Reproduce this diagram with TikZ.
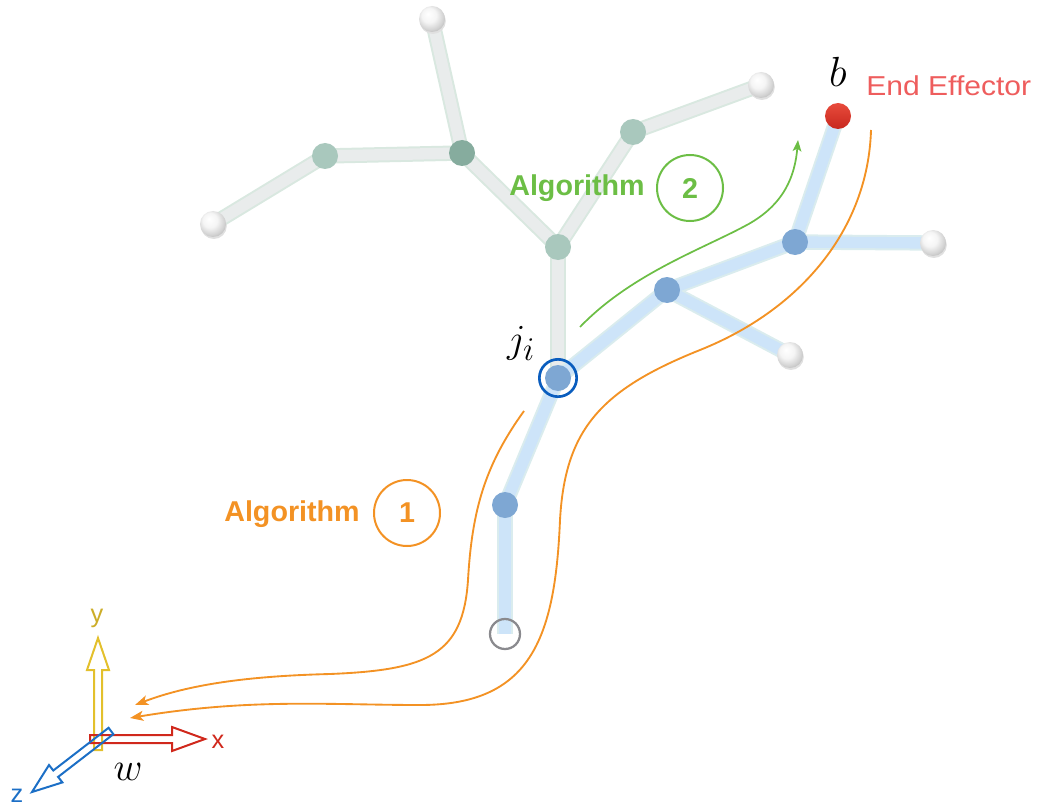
\documentclass[tikz,border=0pt]{standalone}
\usepackage{fontspec}
\newfontfamily\lsans{Liberation Sans}
\usetikzlibrary{arrows.meta}
\definecolor{algo}{HTML}{F39224}
\definecolor{algg}{HTML}{6CBE45}
\definecolor{eered}{HTML}{EE5D5D}
\definecolor{jblue}{HTML}{0A5DBE}
\definecolor{lnkg}{HTML}{E9ECEC}
\definecolor{lnkgb}{HTML}{D9E8E0}
\definecolor{lnkb}{HTML}{CDE4F9}
\definecolor{lnkbb}{HTML}{DAECEE}
\definecolor{jgreen}{HTML}{A9C8BD}
\definecolor{jdgreen}{HTML}{86AC9E}
\definecolor{jbl}{HTML}{7EA7D3}
\definecolor{axy}{HTML}{E3C02C}
\definecolor{axx}{HTML}{D0281C}
\definecolor{axz}{HTML}{1C6FC6}
\definecolor{rootgray}{HTML}{8A8A8E}
\definecolor{redtop}{HTML}{E84B3C}
\definecolor{redbot}{HTML}{C8281E}
\pgfdeclareradialshading{leafball}{\pgfpoint{-8bp}{10bp}}{color(0bp)=(white); color(14bp)=(white!96!black); color(26bp)=(black!18); color(32bp)=(black!28); color(50bp)=(black!28)}
\tikzset{
  joint/.style={circle, minimum size=19.5pt, inner sep=0pt, fill=jgreen},
  djoint/.style={joint, fill=jdgreen},
  bjoint/.style={joint, fill=jbl},
  leaf/.style={circle, minimum size=19.5pt, inner sep=0pt, shading=leafball,
     preaction={fill=black!12, transform canvas={xshift=0.6pt, yshift=-1.5pt}}},
  effector/.style={circle, minimum size=19.5pt, inner sep=0pt, top color=redtop, bottom color=redbot},
  rootc/.style={circle, minimum size=22.5pt, inner sep=0pt, draw=rootgray, line width=1.7pt},
  jring/.style={circle, minimum size=28pt, inner sep=0pt, draw=jblue, line width=2pt},
  glinkout/.style={line width=11.5pt, draw=lnkgb},
  glinkin/.style={line width=8.5pt, draw=lnkg},
  blinkout/.style={line width=11.5pt, draw=lnkbb},
  blinkin/.style={line width=8.5pt, draw=lnkb},
  algtext/.style={font=\lsans\bfseries\fontsize{21.5}{24}\selectfont, inner sep=0pt},
  algcirc/.style={circle, draw, line width=1.5pt, minimum size=49.5pt, inner sep=0pt, font=\lsans\bfseries\fontsize{21.5}{24}\selectfont},
  orangeline/.style={draw=algo, line width=1.4pt, -{Stealth[length=10pt,width=7.5pt,inset=2.5pt]}},
  greenline/.style={draw=algg, line width=1.3pt, -{Stealth[length=8.5pt,width=6.5pt,inset=2pt]}},
  axlab/.style={font=\lsans\fontsize{19}{21}\selectfont, inner sep=0pt},
  mathlab/.style={font=\Huge, inner sep=0pt},
  axarrow/.style={line width=1.5pt, line join=miter}
}
\begin{document}
\begin{tikzpicture}[x=0.75pt,y=-0.75pt]
\useasboundingbox (0,0) rectangle (1037,809);

% node positions
\coordinate (pL1) at (432,19);
\coordinate (pA) at (462,153);
\coordinate (pB) at (325,156);
\coordinate (pL2) at (213,224);
\coordinate (pC) at (558,247);
\coordinate (pD) at (633,132);
\coordinate (pL3) at (761,85);
\coordinate (pJ) at (558,378);
\coordinate (pR) at (505,634);
\coordinate (pN1) at (505,505);
\coordinate (pN2) at (667,290);
\coordinate (pL4) at (790,355);
\coordinate (pN3) at (795,242);
\coordinate (pL5) at (933,243);
\coordinate (pE) at (838,116);

% gray links
\foreach \a/\b in {pL1/pA, pA/pB, pB/pL2, pA/pC, pC/pD, pD/pL3, pC/pJ}
  \draw[glinkout] (\a) -- (\b);
\foreach \a/\b in {pL1/pA, pA/pB, pB/pL2, pA/pC, pC/pD, pD/pL3, pC/pJ}
  \draw[glinkin] (\a) -- (\b);
% blue links
\foreach \a/\b in {pR/pN1, pN1/pJ, pJ/pN2, pN2/pL4, pN2/pN3, pN3/pL5, pN3/pE}
  \draw[blinkout] (\a) -- (\b);
\foreach \a/\b in {pR/pN1, pN1/pJ, pJ/pN2, pN2/pL4, pN2/pN3, pN3/pL5, pN3/pE}
  \draw[blinkin] (\a) -- (\b);

% joints
\node[leaf] (L1) at (pL1) {};
\node[djoint] (A) at (pA) {};
\node[joint] (B) at (pB) {};
\node[leaf] (L2) at (pL2) {};
\node[joint] (C) at (pC) {};
\node[joint] (D) at (pD) {};
\node[leaf] (L3) at (pL3) {};
\node[bjoint] (J) at (pJ) {};
\node[jring] (Jr) at (pJ) {};
\node[rootc] (R) at (pR) {};
\node[bjoint] (N1) at (pN1) {};
\node[bjoint] (N2) at (pN2) {};
\node[leaf] (L4) at (pL4) {};
\node[bjoint] (N3) at (pN3) {};
\node[leaf] (L5) at (pL5) {};
\node[effector] (E) at (pE) {};

% labels
\node[mathlab, scale=1.2] (jl) at (521,343) {$j_i$};
\node[mathlab, scale=1.27] (bl) at (838,72) {$b$};
\node[anchor=west, font=\lsans\fontsize{20.5}{23}\selectfont, text=eered, inner sep=0pt] (eel) at (866,86) {\scalebox{1.1}[1]{End Effector}};

\node[algtext, text=algo] (a1) at (292,514) {Algorithm};
\node[algcirc, draw=algo, text=algo] (c1) at (407,513) {1};
\node[algtext, text=algg] (a2) at (577,188) {Algorithm};
\node[algcirc, draw=algg, text=algg] (c2) at (690,188) {2};

% axes
\coordinate (O) at (98,739);
\draw[axarrow, draw=axy] (94,750) -- (102,750) -- (102,670) -- (109,670) -- (98,638) -- (87,670) -- (94,670) -- cycle;
\draw[axarrow, draw=axx] (90,735) -- (172,735) -- (172,727) -- (205,739) -- (172,751) -- (172,743) -- (90,743) -- cycle;
\draw[axarrow, draw=axz] (108.6,727.8) -- (53.3,770.5) -- (49,765) -- (32,792) -- (62.4,782.4) -- (58.1,776.9) -- (113.4,734.2) -- cycle;
\node[axlab, text=axy!90!black] (ylab) at (97,618) {y};
\node[axlab, text=axx] (xlab) at (218,742) {x};
\node[axlab, text=axz] (zlab) at (17,796) {z};
\node[mathlab, scale=1.2] (wlab) at (128,772) {$w$};

% algorithm curves
\coordinate (o1s) at (871,130);
\coordinate (o1e) at (130,718);
\coordinate (o2s) at (524,411);
\coordinate (o2e) at (135,705);
\coordinate (g2s) at (580,327);
\coordinate (g2e) at (798,140);
\draw[orangeline] (o1s) .. controls (868,230) and (800,310) .. (700,350)
   .. controls (600,390) and (565,430) .. (560,520)
   .. controls (555,640) and (530,705) .. (420,705)
   .. controls (330,705) and (250,698) .. (o1e);
\draw[orangeline] (o2s) .. controls (485,465) and (472,510) .. (468,580)
   .. controls (463,655) and (428,670) .. (330,674)
   .. controls (250,676) and (190,684) .. (o2e);
\draw[greenline] (g2s) .. controls (630,275) and (700,250) .. (745,226)
   .. controls (785,205) and (795,175) .. (g2e);
\end{tikzpicture}
\end{document}
